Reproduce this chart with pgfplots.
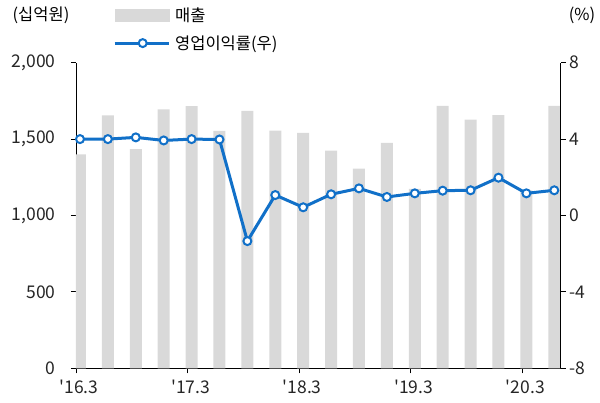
\documentclass[border=0pt]{standalone}
\usepackage{fontspec}
\setmainfont{Noto Sans CJK KR}[Ligatures=TeXOff]
\usepackage{pgfplots}
\pgfplotsset{compat=1.18}
\definecolor{barc}{HTML}{D9D9D9}
\definecolor{linec}{HTML}{1170C8}
\begin{document}
\begin{tikzpicture}[font=\fontsize{16.5}{19}\selectfont]
\useasboundingbox (-76pt,-34.7pt) rectangle (524pt,368.3pt);
\pgfplotsset{
  base/.style={
    scale only axis, width=484.7pt, height=305.6pt,
    xmin=-0.143, xmax=17.23,
    /pgf/number format/assume math mode=true,
    /pgf/number format/1000 sep={,},
    tick style={black, line width=0.8pt},
    axis line style={black, line width=0.8pt},
    tick align=outside, major tick length=5pt,
    tick label style={black!85, font=\fontsize{17.5}{20}\selectfont},
  }
}
\begin{axis}[base, name=ax,
  axis y line*=left, axis x line*=bottom,
  ymin=0, ymax=2000, ytick={0,500,1000,1500,2000},
  yticklabel style={xshift=-12pt},
  xticklabel style={yshift=-3pt, xshift=3pt},
  xtick={-0.143,3.857,7.857,11.857,15.857},
  xticklabels={'16.3,'17.3,'18.3,'19.3,'20.3},
  ybar, bar width=12pt]
\addplot[fill=barc, draw=none] coordinates {
(0,1400) (1,1655) (2,1435) (3,1695) (4,1715) (5,1553) (6,1684) (7,1555) (8,1540)
(9,1424) (10,1307) (11,1476) (12,1175) (13,1718) (14,1627) (15,1657) (16,1165) (17,1718)};
\end{axis}
\begin{axis}[base,
  axis y line*=right, axis x line=none,
  ymin=-8, ymax=8, ytick={-8,-4,0,4,8},
  clip=false,
  legend style={draw=none, fill=none, at={(rel axis cs:0,1)}, anchor=west,
    xshift=37pt, yshift=33.7pt, inner sep=0pt, row sep=13pt, column sep=5pt,
    nodes={inner sep=0pt}, font=\fontsize{16.5}{19}\selectfont},
  legend cell align=left]
\addlegendimage{legend image code/.code={\fill[barc] (0pt,-6pt) rectangle (54pt,6pt);}}
\addlegendentry{매출}
\addplot[linec, line width=3pt, mark=*, mark size=4pt,
  mark options={fill=white, draw=linec, line width=2pt},
  legend image code/.code={\draw[linec, line width=3pt] (0pt,0pt) -- (54pt,0pt);
    \draw[linec, line width=2pt, fill=white] (28pt,0pt) circle (4pt);}] coordinates {
(0,4.0) (1,4.0) (2,4.09) (3,3.93) (4,4.0) (5,3.98) (6,-1.34) (7,1.07) (8,0.43)
(9,1.11) (10,1.42) (11,0.97) (12,1.16) (13,1.30) (14,1.32) (15,1.98) (16,1.16) (17,1.32)};
\addlegendentry{영업이익률(우)}
\end{axis}
\node at ([xshift=-35pt,yshift=47.7pt]ax.north west) {(십억원)};
\node at ([xshift=21.3pt,yshift=47.7pt]ax.north east) {(\%)};
\end{tikzpicture}
\end{document}
